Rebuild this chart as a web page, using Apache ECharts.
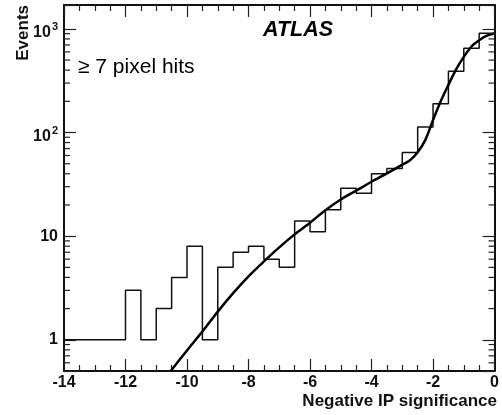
<!DOCTYPE html>
<html><head><meta charset="utf-8">
<script src="https://cdn.jsdelivr.net/npm/echarts@6/dist/echarts.min.js"></script>
<style>html,body{margin:0;padding:0;background:#fff}#c{width:502px;height:415px}</style>
</head><body><div id="c"></div>
<script>
// ---- data ----
const binEdges = [-14,-13.5,-13,-12.5,-12,-11.5,-11,-10.5,-10,-9.5,-9,-8.5,-8,-7.5,-7,-6.5,-6,-5.5,-5,-4.5,-4,-3.5,-3,-2.5,-2,-1.5,-1,-0.5,0];
const binCounts = [1,1,1,1,3,1,2,4,8,1,5,7,8,6,5,14,11,18,29,26,40,45,64,113,190,390,650,910];
const fitX = [-10.53,-10,-9.5,-9,-8.5,-8,-7.5,-7,-6.5,-6,-5.5,-5,-4.5,-4,-3.5,-3,-2.75,-2.5,-2.25,-2,-1.75,-1.5,-1.25,-1,-0.75,-0.5,-0.25,0];
const fitY = [0.5,0.79,1.2,1.87,2.82,4.1,5.7,7.8,10.4,13.5,17.8,22.6,27.5,33.5,40.3,49,54,64.6,85,132,200,288,407,537,676,776,860,902];
const xTickValues = [-14,-12,-10,-8,-6,-4,-2,0];
const xTickLabels = ['-14','-12','-10','-8','-6','-4','-2','0'];
const yTickValues = [1,10,100,1000];
const yTickLabels = ['{n|1}','{n|10}','{b|10}{s|2}','{b|10}{s|3}'];
const yMinorTicks = [0.6,0.7,0.8,0.9,2,3,4,5,6,7,8,9,20,30,40,50,60,70,80,90,200,300,400,500,600,700,800,900];
const xTitle = 'Negative IP significance';
const yTitle = 'Events';
const expLabel = 'ATLAS';
const selLabel = '\u2265 7 pixel hits';

// ---- chart ----
const FONT = '"Liberation Sans", Arial, Helvetica, sans-serif';
const frameColor = '#111';
const tickStyle = {color:'#222', width:1.2};
const chart = echarts.init(document.getElementById('c'), null, {renderer:'canvas'});

const histData = binCounts.map((c,i)=>[binEdges[i], c]);
histData.push([binEdges[binEdges.length-1], binCounts[binCounts.length-1]]);
const fitData = fitX.map((x,i)=>[x, fitY[i]]);

function xFmt(v){ const i = xTickValues.findIndex(t=>Math.abs(t-v)<1e-6); return i>=0 ? xTickLabels[i] : ''; }
function yFmt(v){ const i = yTickValues.findIndex(t=>Math.abs(Math.log10(t)-Math.log10(v))<1e-6); return i>=0 ? yTickLabels[i] : ''; }

const xAxisBase = {
  type:'value', min:-14, max:0, interval:2,
  axisLine:{show:true, onZero:false, lineStyle:{color:frameColor, width:2}},
  axisTick:{show:true, inside:true, length:12, lineStyle:tickStyle},
  minorTick:{show:true, splitNumber:4, length:6, lineStyle:tickStyle},
  splitLine:{show:false}, minorSplitLine:{show:false}
};
const yAxisBase = {
  type:'log', logBase:10, min:0.5, max:1700,
  axisLine:{show:true, onZero:false, lineStyle:{color:frameColor, width:2}},
  axisTick:{show:true, inside:true, length:12, lineStyle:tickStyle},
  minorTick:{show:false},
  splitLine:{show:false}, minorSplitLine:{show:false}
};

const option = {
  animation:false,
  backgroundColor:'#fff',
  grid:{left:64, right:5, top:5, bottom:44},
  xAxis:[
    Object.assign({}, xAxisBase, {position:'bottom',
      axisLabel:{show:true, margin:4, fontFamily:FONT, fontSize:16, fontWeight:'bold', color:'#111', formatter:xFmt, showMinLabel:true, showMaxLabel:true}}),
    Object.assign({}, xAxisBase, {position:'top', axisLabel:{show:false}})
  ],
  yAxis:[
    Object.assign({}, yAxisBase, {position:'left',
      axisLabel:{show:true, margin:6, formatter:yFmt, color:'#111',
        rich:{
          n:{fontFamily:FONT, fontSize:16, fontWeight:'bold', color:'#111'},
          b:{fontFamily:FONT, fontSize:16, fontWeight:'bold', color:'#111', padding:[8,0,0,0], verticalAlign:'bottom'},
          s:{fontFamily:FONT, fontSize:11, fontWeight:'bold', color:'#111', padding:[5,0,0,1], verticalAlign:'top'}
        }}}),
    Object.assign({}, yAxisBase, {position:'right', axisLabel:{show:false}})
  ],
  series:[
    {
      type:'line', name:'data', xAxisIndex:0, yAxisIndex:0,
      data:histData, step:'end', showSymbol:false, symbol:'none',
      lineStyle:{color:'#111', width:1.5}, clip:true, z:3
    },
    {
      type:'line', name:'fit', xAxisIndex:0, yAxisIndex:0,
      data:fitData, smooth:0.3, showSymbol:false, symbol:'none',
      lineStyle:{color:'#000', width:2.5}, clip:true, z:4
    },
    {
      type:'custom', name:'yminor', xAxisIndex:0, yAxisIndex:0, silent:true,
      data:yMinorTicks.map(v=>[-14, v]),
      renderItem:function(params, api){
        const v = api.value(1);
        const pl = api.coord([-14, v]);
        const pr = api.coord([0, v]);
        return {type:'group', children:[
          {type:'line', shape:{x1:pl[0], y1:pl[1], x2:pl[0]+6, y2:pl[1]}, style:{stroke:'#222', lineWidth:1.2}},
          {type:'line', shape:{x1:pr[0]-6, y1:pr[1], x2:pr[0], y2:pr[1]}, style:{stroke:'#222', lineWidth:1.2}}
        ]};
      },
      z:5
    }
  ],
  graphic:[
    {type:'text', x:263, y:30, style:{text:expLabel, fontFamily:FONT, fontSize:21.5, fontWeight:'bold', fontStyle:'italic', fill:'#000', textAlign:'left', textVerticalAlign:'middle'}},
    {type:'text', x:78, y:67, style:{text:selLabel, fontFamily:FONT, fontSize:21, fill:'#000', textAlign:'left', textVerticalAlign:'middle'}},
    {type:'text', x:23, y:5, rotation:Math.PI/2, style:{text:yTitle, fontFamily:FONT, fontSize:17, fontWeight:'bold', fill:'#111', textAlign:'right', textVerticalAlign:'middle'}},
    {type:'text', x:497, y:401, style:{text:xTitle, fontFamily:FONT, fontSize:17, fontWeight:'bold', fill:'#111', textAlign:'right', textVerticalAlign:'middle'}}
  ]
};
chart.setOption(option);
</script>
</body></html>
